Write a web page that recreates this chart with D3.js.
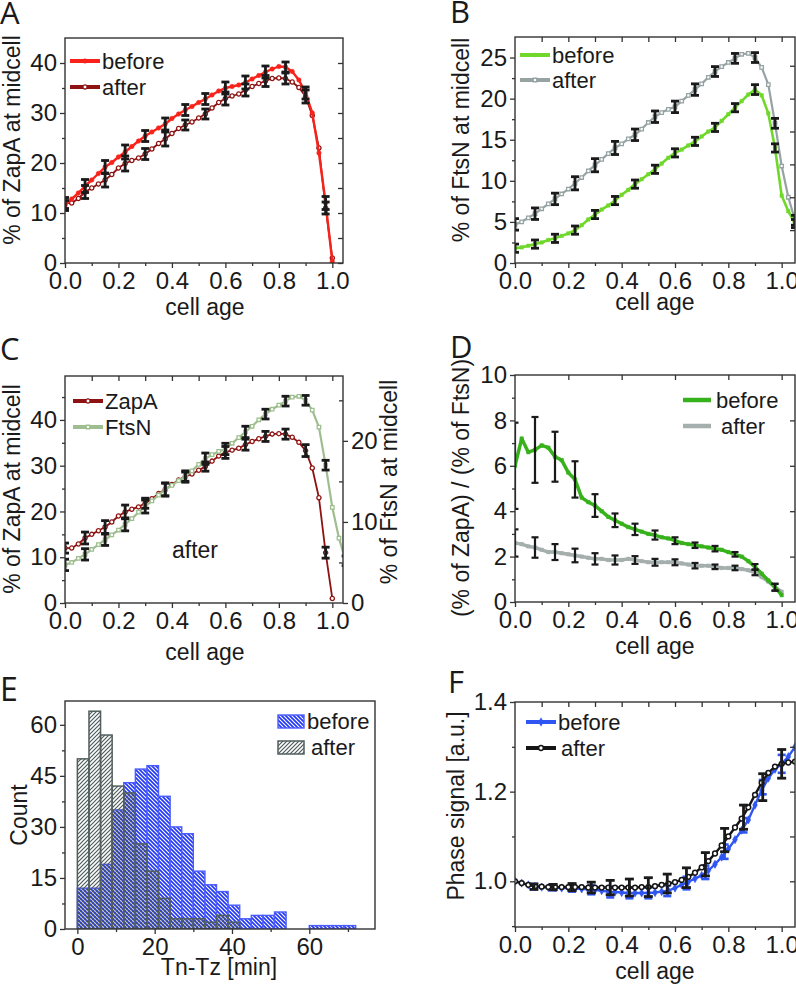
<!DOCTYPE html>
<html>
<head>
<meta charset="utf-8">
<script src="https://cdnjs.cloudflare.com/ajax/libs/d3/7.8.5/d3.min.js"></script>
<style>
  body { margin: 0; background: #fff; }
  svg text { font-family: "Liberation Sans", Arial, sans-serif; fill: #1a1a1a; }
  .tick text { font-size: 24px; }
  .tick line { stroke: #333; stroke-width: 1.3; }
  .domain { display: none; }
  .title { font-size: 23px; }
  .leg { font-size: 22px; }
  .letter { font-family: "Open Sans", sans-serif; font-size: 31px; }
</style>
</head>
<body>
<svg id="fig" width="796" height="984"></svg>
<script>
// ---- data ----
const cellAge = [0, 0.025, 0.05, 0.075, 0.1, 0.125, 0.15, 0.175, 0.2, 0.225, 0.25, 0.275, 0.3, 0.325, 0.35,
  0.375, 0.4, 0.425, 0.45, 0.475, 0.5, 0.525, 0.55, 0.575, 0.6, 0.625, 0.65, 0.675, 0.7, 0.725, 0.75,
  0.775, 0.8, 0.825, 0.85, 0.875, 0.9, 0.925, 0.95, 0.975, 1, 1.025, 1.05];
const errAge = [0, 0.075, 0.15, 0.225, 0.3, 0.375, 0.45, 0.525, 0.6, 0.675, 0.75, 0.825, 0.9, 0.975, 1.05];

// A: % of ZapA at midcell
const zapaBefore = [11.5, 12.8, 14.0, 15.4, 16.6, 17.9, 19.2, 20.1, 21.2, 22.2, 23.3, 24.4, 25.4, 26.2, 27.0,
  27.8, 28.9, 29.8, 30.6, 31.3, 32.1, 32.8, 33.6, 34.4, 35.0, 35.3, 35.6, 36.1, 36.8, 37.5, 38.2,
  38.8, 39.3, 39.2, 38.3, 36.6, 34.0, 30.0, 22.0, 12.0, 0.3];
const zapaAfter = [12.0, 12.0, 12.9, 14.2, 15.0, 15.8, 16.6, 17.7, 19.0, 19.9, 20.5, 21.0, 21.8, 22.8, 23.9,
  24.8, 25.9, 26.9, 27.6, 28.2, 29.0, 29.8, 31.0, 32.1, 32.9, 33.4, 33.8, 34.6, 35.3, 35.9, 36.4,
  36.9, 37.0, 36.9, 36.2, 35.1, 33.3, 29.5, 23.0, 11.0, 1.0];
const zapaBeforeErr = [1.0, 1.3, 1.3, 1.4, 1.1, 1.2, 1.1, 1.1, 1.2, 1.3, 1.2, 1.0, 1.2, 1.3];
const zapaAfterErr = [1.1, 1.3, 1.4, 1.5, 1.1, 1.4, 1.0, 1.0, 1.3, 1.2, 1.1, 1.1, 1.3, 1.2];

// B: % of FtsN at midcell
const ftsnBefore = [1.8, 1.9, 2.1, 2.3, 2.5, 2.8, 3.0, 3.3, 3.6, 4.0, 4.6, 5.3, 5.9, 6.5, 7.0,
  7.6, 8.3, 8.9, 9.6, 10.2, 10.8, 11.4, 12.1, 12.8, 13.4, 13.8, 14.3, 14.8, 15.4, 16.0, 16.5,
  17.3, 18.1, 18.9, 19.7, 20.5, 21.1, 20.4, 18.2, 14.0, 8.2, 6.3, 4.8];
const ftsnAfter = [4.7, 5.0, 5.5, 6.0, 6.6, 7.2, 7.8, 8.4, 9.0, 9.7, 10.4, 11.2, 11.9, 12.6, 13.3,
  14.0, 14.5, 15.1, 15.6, 16.3, 17.1, 17.8, 18.3, 18.7, 19.0, 19.7, 20.4, 21.1, 21.8, 22.6, 23.3,
  23.9, 24.4, 24.9, 25.4, 25.5, 25.0, 23.8, 21.7, 17.0, 11.8, 8.0, 5.2];
const ftsnBeforeErr = [0.5, 0.5, 0.5, 0.5, 0.5, 0.5, 0.5, 0.5, 0.5, 0.5, 0.5, 0.5, 0.6, 0.5, 0.5];
const ftsnAfterErr = [0.7, 0.7, 0.7, 0.8, 0.8, 0.8, 0.7, 0.7, 0.7, 0.7, 0.6, 0.6, 0.6, 0.6, 0.6];

// D: ratio ZapA / FtsN
const ratioBefore = [6.0, 7.2, 6.6, 6.7, 6.9, 6.8, 6.4, 6.25, 5.7, 5.4, 4.6, 4.4, 4.25, 4.0, 3.75,
  3.6, 3.45, 3.3, 3.2, 3.1, 3.0, 2.95, 2.85, 2.8, 2.7, 2.6, 2.55, 2.5, 2.45, 2.4, 2.35,
  2.3, 2.2, 2.1, 2.0, 1.8, 1.55, 1.25, 0.95, 0.65, 0.3];
const ratioAfter = [2.6, 2.55, 2.45, 2.4, 2.3, 2.2, 2.2, 2.15, 2.1, 2.05, 2.0, 1.95, 1.9, 1.9, 1.85,
  1.85, 1.85, 1.9, 1.85, 1.8, 1.75, 1.75, 1.75, 1.75, 1.75, 1.7, 1.65, 1.6, 1.6, 1.6, 1.55,
  1.5, 1.5, 1.5, 1.45, 1.4, 1.3, 1.1, 0.9, 0.65, 0.45];
const ratioBeforeErr = [1.9, 1.45, 1.1, 0.8, 0.5, 0.3, 0.25, 0.2, 0.15, 0.12, 0.12, 0.1, 0.12, 0.15];
const ratioAfterErr = [0.6, 0.45, 0.35, 0.3, 0.25, 0.2, 0.17, 0.15, 0.13, 0.12, 0.1, 0.1, 0.12, 0.15];

// E: Tn-Tz histogram
const binEdges = [0, 3, 6, 9, 12, 15, 18, 21, 24, 27, 30, 33, 36, 39, 42, 45, 48, 51, 54, 57, 60, 63, 66, 69, 72];
const countBefore = [12, 12, 19, 35, 43, 47, 48, 39, 30, 28, 17, 13, 11, 7, 3, 4, 4, 5, 0, 0, 1, 1, 1, 1];
const countAfter = [50, 64, 57, 42, 40, 25, 17, 9, 3, 3, 3, 2, 4, 2, 0, 0, 0, 0, 0, 0, 0, 0, 0, 0];

// F: phase signal
const phaseBefore = [1.000, 0.996, 0.992, 0.988, 0.987, 0.986, 0.986, 0.985, 0.985, 0.984, 0.983, 0.982, 0.981, 0.979, 0.977,
  0.976, 0.975, 0.974, 0.974, 0.974, 0.974, 0.975, 0.977, 0.979, 0.985, 0.992, 0.999, 1.006, 1.013, 1.024, 1.038,
  1.054, 1.072, 1.093, 1.114, 1.137, 1.170, 1.203, 1.230, 1.250, 1.262, 1.278, 1.300];
const phaseAfter = [1.000, 0.996, 0.992, 0.989, 0.988, 0.987, 0.987, 0.987, 0.987, 0.987, 0.987, 0.986, 0.986, 0.986, 0.986,
  0.986, 0.986, 0.986, 0.986, 0.987, 0.987, 0.989, 0.992, 0.995, 0.998, 1.003, 1.010, 1.019, 1.031, 1.045, 1.062,
  1.080, 1.100, 1.120, 1.140, 1.165, 1.193, 1.220, 1.242, 1.256, 1.262, 1.265, 1.267];
const phaseErrAge = [0.071, 0.143, 0.214, 0.286, 0.357, 0.429, 0.5, 0.571, 0.643, 0.714, 0.786, 0.857, 0.929, 1.0];
const phaseBeforeMean = [0.988, 0.986, 0.985, 0.981, 0.976, 0.974, 0.974, 0.979, 0.996, 1.020, 1.066, 1.125, 1.210, 1.262];
const phaseBeforeErr = [0.006, 0.006, 0.008, 0.010, 0.012, 0.012, 0.012, 0.012, 0.014, 0.015, 0.016, 0.016, 0.016, 0.020];
const phaseAfterMean = [0.988, 0.987, 0.987, 0.986, 0.986, 0.986, 0.987, 0.995, 1.008, 1.038, 1.092, 1.143, 1.210, 1.262];
const phaseAfterErr = [0.006, 0.006, 0.008, 0.012, 0.016, 0.019, 0.021, 0.021, 0.022, 0.026, 0.026, 0.027, 0.030, 0.032];

// tick values
const ageTicks = [0, 0.2, 0.4, 0.6, 0.8, 1.0];
const ageMinor = [0.1, 0.3, 0.5, 0.7, 0.9];

const svg = d3.select('#fig');
const defs = svg.append('defs');

// hatch patterns for the histogram
const pb = defs.append('pattern').attr('id', 'hatchBefore').attr('patternUnits', 'userSpaceOnUse')
  .attr('width', 4).attr('height', 4);
pb.append('rect').attr('width', 4).attr('height', 4).attr('fill', '#2338f2');
pb.append('path').attr('d', 'M-1,-1L5,5M-1,3L1,5M3,-1L5,1').attr('stroke', '#fff').attr('stroke-width', 1.1);
const pa = defs.append('pattern').attr('id', 'hatchAfter').attr('patternUnits', 'userSpaceOnUse')
  .attr('width', 4).attr('height', 4);
pa.append('path').attr('d', 'M-1,5L5,-1M-1,1L1,-1M3,5L5,3').attr('stroke', '#4e5a5a').attr('stroke-width', 1.2);

// builds one framed panel with Origin-like ticks
function panel(o) {
  const x = d3.scaleLinear().domain(o.xd).range([o.l, o.r]);
  const y = d3.scaleLinear().domain(o.yd).range([o.b, o.t]);
  defs.append('clipPath').attr('id', 'clip' + o.id).append('rect')
    .attr('x', o.l).attr('y', o.t).attr('width', o.r - o.l).attr('height', o.b - o.t);
  const g = svg.append('g');
  const plot = g.append('g').attr('clip-path', `url(#clip${o.id})`);
  const ax = g.append('g');

  ax.append('g').attr('transform', `translate(0,${o.b})`)
    .call(d3.axisBottom(x).tickValues(o.xt).tickFormat(o.xf).tickSize(5).tickPadding(4));
  ax.append('g').attr('transform', `translate(0,${o.b})`)
    .call(d3.axisBottom(x).tickValues(o.xm).tickFormat('').tickSize(3));
  ax.append('g').attr('transform', `translate(${o.l},0)`)
    .call(d3.axisLeft(y).tickValues(o.yt).tickFormat(o.yf).tickSize(5).tickPadding(3));
  ax.append('g').attr('transform', `translate(${o.l},0)`)
    .call(d3.axisLeft(y).tickValues(o.ym).tickFormat('').tickSize(3));
  if (o.top) {
    ax.append('g').attr('transform', `translate(0,${o.t})`)
      .call(d3.axisTop(x).tickValues(o.top).tickFormat('').tickSize(-5));
  }
  if (o.right) {
    ax.append('g').attr('transform', `translate(${o.r},0)`)
      .call(d3.axisRight(y).tickValues(o.right).tickFormat('').tickSize(-5));
  }
  return { x, y, g, plot, ax, o };
}

function frame(p) {
  const o = p.o;
  p.g.append('rect').attr('x', o.l).attr('y', o.t).attr('width', o.r - o.l).attr('height', o.b - o.t)
    .attr('fill', 'none').attr('stroke', '#333').attr('stroke-width', 1.4);
}

function drawMarker(sel, cx, cy, st) {
  const filled = st.fill !== 'open';
  sel.append('path')
    .attr('transform', `translate(${cx},${cy})`)
    .attr('d', d3.symbol().type(st.shape).size(st.size)())
    .attr('fill', filled ? st.color : '#fff')
    .attr('stroke', st.color)
    .attr('stroke-width', filled ? 0.5 : (st.mw || 1.3));
}

function drawSeries(p, ages, vals, st) {
  const pts = vals.map((v, i) => [ages[i], v]);
  p.plot.append('path').datum(pts)
    .attr('fill', 'none').attr('stroke', st.color).attr('stroke-width', st.lw)
    .attr('stroke-linejoin', 'round')
    .attr('d', d3.line().x(d => p.x(d[0])).y(d => p.y(d[1])));
  if (st.shape) {
    const mg = p.plot.append('g');
    pts.forEach(d => drawMarker(mg, p.x(d[0]), p.y(d[1]), st));
  }
}

function drawErr(p, ages, means, errs, color, lw, cap, yScale) {
  const ys = yScale || p.y;
  const eg = p.plot.append('g').attr('stroke', color).attr('stroke-width', lw);
  ages.forEach((a, i) => {
    const cx = p.x(a);
    const y0 = ys(means[i] - errs[i]), y1 = ys(means[i] + errs[i]);
    eg.append('line').attr('x1', cx).attr('x2', cx).attr('y1', y0).attr('y2', y1);
    eg.append('line').attr('x1', cx - cap).attr('x2', cx + cap).attr('y1', y0).attr('y2', y0);
    eg.append('line').attr('x1', cx - cap).attr('x2', cx + cap).attr('y1', y1).attr('y2', y1);
  });
}

// centre of an error bar taken from the series at the same cell age
function centers(series, ages) {
  return ages.map(a => series[cellAge.indexOf(a)]);
}

function legendLine(p, x0, x1, yy, st, label, tx) {
  p.g.append('line').attr('x1', x0).attr('x2', x1).attr('y1', yy).attr('y2', yy)
    .attr('stroke', st.color).attr('stroke-width', st.legLw || 4);
  if (st.shape) drawMarker(p.g, (x0 + x1) / 2, yy, st);
  p.g.append('text').attr('class', 'leg').attr('x', tx).attr('y', yy).attr('dy', '0.35em').text(label);
}

function yTitle(cx, cy, s) {
  svg.append('text').attr('class', 'title').attr('text-anchor', 'middle').attr('dy', '0.35em')
    .attr('transform', `translate(${cx},${cy}) rotate(-90)`).text(s);
}
function xTitle(cx, by, s) {
  svg.append('text').attr('class', 'title').attr('text-anchor', 'middle').attr('x', cx).attr('y', by).text(s);
}
function letter(lx, by, s, size) {
  svg.append('text').attr('class', 'letter').attr('x', lx).attr('y', by)
    .style('font-size', size ? size + 'px' : null).text(s);
}

const f1 = d3.format('.1f');
const f0 = d3.format('d');

// styles
const sZapaBefore = { color: '#f8221a', lw: 2.4, shape: d3.symbolCircle, size: 16 };
const sZapaAfter = { color: '#8e1212', lw: 1.8, shape: d3.symbolCircle, size: 14, fill: 'open' };
const sFtsnBefore = { color: '#6fd82a', lw: 2.6, shape: d3.symbolSquare, size: 12 };
const sFtsnAfter = { color: '#97a3a3', lw: 2.2, shape: d3.symbolSquare, size: 12, fill: 'open' };
const sFtsnC = { color: '#9fbe8f', lw: 2.2, shape: d3.symbolSquare, size: 12, fill: 'open' };
const sRatioBefore = { color: '#38b21c', lw: 3.5, shape: d3.symbolSquare, size: 12 };
const sRatioAfter = { color: '#a5afad', lw: 3.5, shape: d3.symbolSquare, size: 12 };
const sPhaseBefore = { color: '#2f55f2', lw: 2.4, shape: d3.symbolDiamond, size: 20 };
const sPhaseAfter = { color: '#151515', lw: 2.4, shape: d3.symbolCircle, size: 18, fill: 'open', mw: 1.5 };
const errColor = '#1a1a1a';

// ---------- A ----------
const pA = panel({ id: 'A', l: 65, r: 343, t: 38, b: 263, xd: [0, 1.04], yd: [0, 45],
  xt: ageTicks, xm: ageMinor, xf: f1, yt: [0, 10, 20, 30, 40], ym: [5, 15, 25, 35], yf: f0,
  right: [0, 5, 10, 15, 20, 25, 30, 35, 40] });
drawSeries(pA, cellAge, zapaAfter, sZapaAfter);
drawSeries(pA, cellAge, zapaBefore, sZapaBefore);
const errA = errAge.slice(0, 14);
drawErr(pA, errA, centers(zapaBefore, errA), zapaBeforeErr, errColor, 2.8, 4);
drawErr(pA, errA, centers(zapaAfter, errA), zapaAfterErr, errColor, 2.8, 4);
frame(pA);
legendLine(pA, 70, 100, 61, sZapaBefore, 'before', 102);
legendLine(pA, 70, 100, 87, sZapaAfter, 'after', 102);
yTitle(12, 140, '% of ZapA at midcell');
xTitle(205, 315, 'cell age');
letter(0, 24, 'A');

// ---------- B ----------
const pB = panel({ id: 'B', l: 515, r: 795, t: 37, b: 263, xd: [0, 1.05], yd: [0, 27.5],
  xt: ageTicks, xm: ageMinor, xf: f1, yt: [0, 5, 10, 15, 20, 25], ym: [2.5, 7.5, 12.5, 17.5, 22.5], yf: f0,
  top: [0.1, 0.2, 0.3, 0.4, 0.5, 0.6, 0.7, 0.8, 0.9, 1.0], right: [4, 8, 12, 16, 20, 24] });
drawSeries(pB, cellAge, ftsnAfter, sFtsnAfter);
drawSeries(pB, cellAge, ftsnBefore, sFtsnBefore);
drawErr(pB, errAge, centers(ftsnBefore, errAge), ftsnBeforeErr, errColor, 2.8, 4);
drawErr(pB, errAge, centers(ftsnAfter, errAge), ftsnAfterErr, errColor, 2.8, 4);
frame(pB);
legendLine(pB, 520, 550, 55, sFtsnBefore, 'before', 552);
legendLine(pB, 520, 550, 80, sFtsnAfter, 'after', 552);
yTitle(461, 140, '% of FtsN at midcell');
xTitle(655, 310, 'cell age');
letter(450, 23, 'B');

// ---------- C ----------
const pC = panel({ id: 'C', l: 65, r: 343, t: 376, b: 603, xd: [0, 1.04], yd: [0, 49.6],
  xt: ageTicks, xm: ageMinor, xf: f1, yt: [0, 10, 20, 30, 40], ym: [5, 15, 25, 35, 45], yf: f0,
  top: [0.1, 0.2, 0.3, 0.4, 0.5, 0.6, 0.7, 0.8, 0.9, 1.0] });
const yC2 = d3.scaleLinear().domain([0, 28]).range([603, 376]);
pC.ax.append('g').attr('transform', 'translate(343,0)')
  .call(d3.axisRight(yC2).tickValues([0, 10, 20]).tickFormat(f0).tickSize(5).tickPadding(3));
pC.ax.append('g').attr('transform', 'translate(343,0)')
  .call(d3.axisRight(yC2).tickValues([5, 15, 25]).tickFormat('').tickSize(-4));
drawSeries(pC, cellAge, zapaAfter, sZapaAfter);
drawSeries({ x: pC.x, y: yC2, plot: pC.plot }, cellAge, ftsnAfter, sFtsnC);
drawErr(pC, errA, centers(zapaAfter, errA), zapaAfterErr, errColor, 2.8, 4);
drawErr(pC, errAge, centers(ftsnAfter, errAge), ftsnAfterErr, errColor, 2.8, 4, yC2);
frame(pC);
legendLine(pC, 73, 103, 401, sZapaAfter, 'ZapA', 105);
legendLine(pC, 73, 103, 427, sFtsnC, 'FtsN', 105);
pC.g.append('text').attr('class', 'title').attr('x', 195).attr('y', 550).attr('dy', '0.35em')
  .attr('text-anchor', 'middle').text('after');
yTitle(12, 489, '% of ZapA at midcell');
yTitle(389, 482, '% of FtsN at midcell');
xTitle(205, 660, 'cell age');
letter(0, 360, 'C');

// ---------- D ----------
const pD = panel({ id: 'D', l: 515, r: 795, t: 375, b: 602, xd: [0, 1.05], yd: [0, 10],
  xt: ageTicks, xm: ageMinor, xf: f1, yt: [0, 2, 4, 6, 8, 10], ym: [1, 3, 5, 7, 9], yf: f0,
  top: [0.2, 0.4, 0.6, 0.8, 1.0], right: [2, 4, 6, 8] });
drawSeries(pD, cellAge, ratioAfter, sRatioAfter);
drawSeries(pD, cellAge, ratioBefore, sRatioBefore);
drawErr(pD, errA, centers(ratioBefore, errA), ratioBeforeErr, errColor, 2.2, 3.5);
drawErr(pD, errA, centers(ratioAfter, errA), ratioAfterErr, errColor, 2.2, 3.5);
frame(pD);
legendLine(pD, 683, 711, 400, { color: sRatioBefore.color, legLw: 4.5 }, 'before', 716);
legendLine(pD, 683, 711, 426, { color: sRatioAfter.color, legLw: 4.5 }, 'after', 721);
yTitle(461, 488, '(% of ZapA) / (% of FtsN)');
xTitle(655, 654, 'cell age');
letter(450, 358, 'D');

// ---------- E ----------
const pE = panel({ id: 'E', l: 65, r: 375, t: 701, b: 929, xd: [-3.2, 77], yd: [0, 67],
  xt: [0, 20, 40, 60], xm: [10, 30, 50, 70], xf: f0, yt: [0, 15, 30, 45, 60], ym: [7.5, 22.5, 37.5, 52.5], yf: f0 });
const bins = countBefore.map((c, i) => ({ x0: binEdges[i], x1: binEdges[i + 1], before: c, after: countAfter[i] }));
pE.plot.selectAll('.barB').data(bins.filter(d => d.before > 0)).enter().append('rect')
  .attr('x', d => pE.x(d.x0)).attr('width', d => pE.x(d.x1) - pE.x(d.x0))
  .attr('y', d => pE.y(d.before)).attr('height', d => pE.y(0) - pE.y(d.before))
  .attr('fill', 'url(#hatchBefore)').attr('stroke', '#4a5cff').attr('stroke-width', 1.4);
pE.plot.selectAll('.barA').data(bins.filter(d => d.after > 0)).enter().append('rect')
  .attr('x', d => pE.x(d.x0)).attr('width', d => pE.x(d.x1) - pE.x(d.x0))
  .attr('y', d => pE.y(d.after)).attr('height', d => pE.y(0) - pE.y(d.after))
  .attr('fill', 'url(#hatchAfter)').attr('stroke', '#525e5e').attr('stroke-width', 1.5);
frame(pE);
pE.g.append('rect').attr('x', 278).attr('y', 715).attr('width', 26).attr('height', 13)
  .attr('fill', 'url(#hatchBefore)').attr('stroke', '#4a5cff').attr('stroke-width', 1.4);
pE.g.append('text').attr('class', 'leg').attr('x', 307).attr('y', 721).attr('dy', '0.35em').text('before');
pE.g.append('rect').attr('x', 278).attr('y', 741).attr('width', 26).attr('height', 13)
  .attr('fill', 'url(#hatchAfter)').attr('stroke', '#525e5e').attr('stroke-width', 1.5);
pE.g.append('text').attr('class', 'leg').attr('x', 311).attr('y', 747).attr('dy', '0.35em').text('after');
yTitle(19, 815, 'Count');
xTitle(219, 975, 'Tn-Tz [min]');
letter(0, 701, 'E', 32);

// ---------- F ----------
const pF = panel({ id: 'F', l: 515, r: 795, t: 702, b: 927, xd: [0, 1.05], yd: [0.898, 1.4],
  xt: ageTicks, xm: ageMinor, xf: f1, yt: [1.0, 1.2, 1.4], ym: [0.9, 1.1, 1.3], yf: f1,
  top: [0.1, 0.2, 0.3, 0.4, 0.5, 0.6, 0.7, 0.8, 0.9, 1.0], right: [1.0, 1.1, 1.2, 1.3] });
drawSeries(pF, cellAge, phaseBefore, sPhaseBefore);
drawErr(pF, phaseErrAge, phaseBeforeMean, phaseBeforeErr, sPhaseBefore.color, 2.6, 4);
drawSeries(pF, cellAge, phaseAfter, sPhaseAfter);
drawErr(pF, phaseErrAge, phaseAfterMean, phaseAfterErr, errColor, 2.8, 4.5);
frame(pF);
legendLine(pF, 526, 556, 722, sPhaseBefore, 'before', 558);
legendLine(pF, 526, 556, 748, sPhaseAfter, 'after', 561);
yTitle(456, 806, 'Phase signal [a.u.]');
xTitle(655, 979, 'cell age');
letter(448, 693, 'F');
</script>
</body>
</html>
